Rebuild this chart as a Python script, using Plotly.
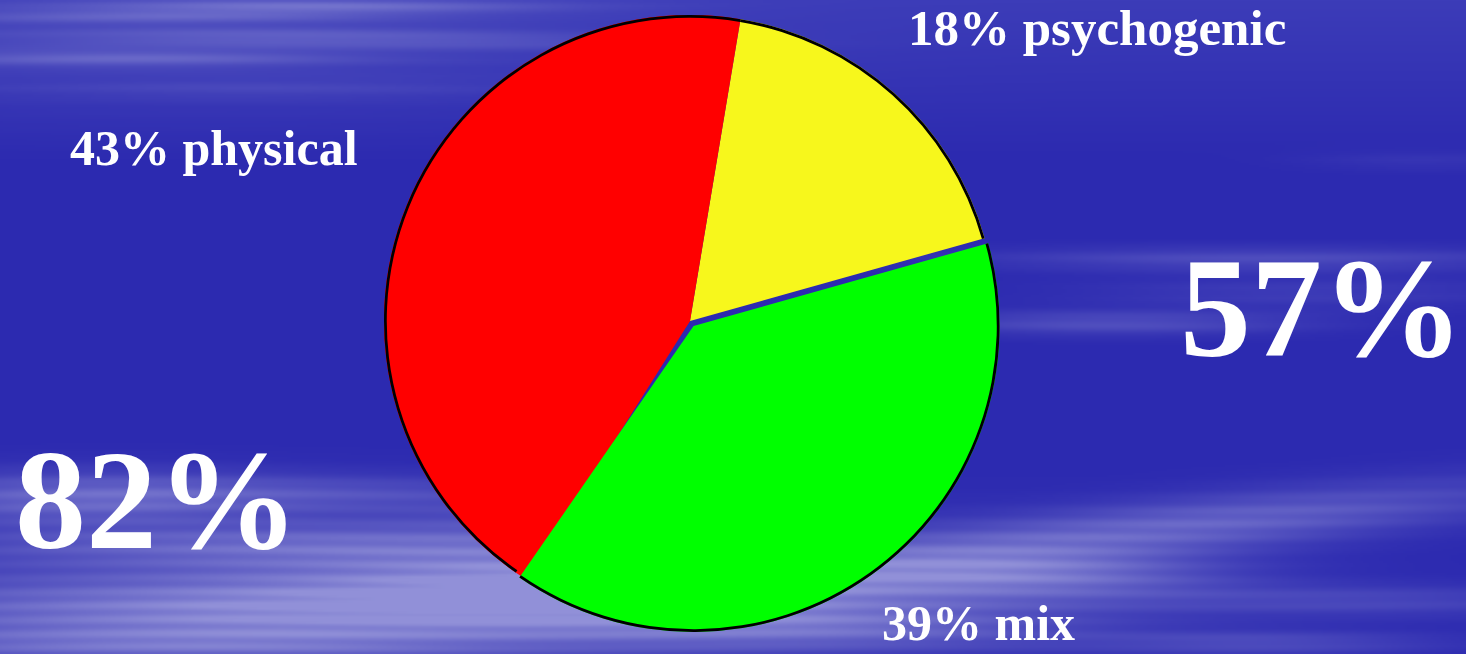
import base64, struct, zlib
import numpy as np
import plotly.graph_objects as go

# ---------------- data ----------------
categories = ["psychogenic", "mix", "physical"]
values = [18, 39, 43]
colors = ["#f7f71c", "#00ff00", "#ff0000"]
pulls = [0, 0.02, 0]
label_texts = ["43% physical", "18% psychogenic", "39% mix"]
big_texts = ["57%", "82%"]

W, H = 1466, 654

# ---------------- background texture (decorative) ----------------
def png_data_uri(arr):
    h, w, _ = arr.shape
    raw = b"".join(b"\x00" + arr[y].tobytes() for y in range(h))
    def chunk(t, d):
        c = struct.pack(">I", len(d)) + t + d
        return c + struct.pack(">I", zlib.crc32(t + d) & 0xffffffff)
    png = (b"\x89PNG\r\n\x1a\n"
           + chunk(b"IHDR", struct.pack(">IIBBBBB", w, h, 8, 2, 0, 0, 0))
           + chunk(b"IDAT", zlib.compress(raw, 9))
           + chunk(b"IEND", b""))
    return "data:image/png;base64," + base64.b64encode(png).decode()

sc = 2
iw, ih = W // sc, H // sc
yy, xx = np.mgrid[0:ih, 0:iw].astype(float)
xx *= sc
yy *= sc
top = np.clip(1 - yy / 160.0, 0, 1)
base = np.stack([44 + 16 * top, 42 + 18 * top, 176 + 8 * top], axis=-1)
blobs = [
    # top-left streaks
    (300, 6, 230, 7, 0.40, 0), (150, 16, 220, 7, 0.25, 0), (260, 36, 260, 9, 0.25, 0),
    (120, 57, 220, 9, 0.30, 0), (520, 42, 220, 7, 0.12, 0), (250, 88, 260, 10, 0.10, 0),
    (200, 45, 450, 70, 0.10, 0),
    # right middle
    (1260, 258, 280, 12, 0.25, 0), (1110, 322, 190, 12, 0.28, 0), (1300, 292, 220, 16, 0.14, 0),
    (1420, 160, 120, 10, 0.08, 0),
    # bottom left
    (80, 497, 190, 26, 0.42, 0), (350, 492, 240, 18, 0.22, 0), (300, 545, 360, 22, 0.35, 0),
    (330, 610, 460, 36, 0.62, 0), (150, 645, 340, 18, 0.35, 0), (640, 580, 280, 32, 0.55, 0),
    (830, 628, 250, 24, 0.35, 0), (600, 520, 220, 24, 0.15, 0), (400, 580, 520, 75, 0.18, 0),
    # bottom right
    (1160, 528, 360, 28, 0.45, -0.10), (1030, 575, 190, 26, 0.45, 0),
    (1360, 600, 230, 16, 0.22, 0), (1260, 642, 180, 12, 0.25, 0),
]
a = np.zeros_like(xx)
for cx, cy, sx, sy, amp, slope in blobs:
    yp = yy - cy - slope * (xx - cx)
    a += amp * np.exp(-((xx - cx) / sx) ** 2 - (yp / sy) ** 2)
mod = 0.9 + 0.1 * np.sin(2 * np.pi * yy / 14.0 + 0.6 * np.sin(xx / 110.0))
a = np.clip(a * mod, 0, 0.72)[..., None]
light = np.array([185, 185, 232], dtype=float)
img = (base * (1 - a) + light * a).clip(0, 255).astype(np.uint8)
bg_uri = png_data_uri(img)

# ---------------- pie geometry ----------------
cx_px, cy_px, r_px = 690, 321, 306
rot = 9.5

def domain_for(pull_list):
    half = r_px * (1 + max(pull_list))
    return dict(x=[(cx_px - half) / W, (cx_px + half) / W],
                y=[1 - (cy_px + half) / H, 1 - (cy_px - half) / H])

dom = domain_for(pulls)
dom_under = domain_for([0, 0, 0])

fig = go.Figure()
# underlay: red slice turned a little further so the mix/physical seam stays closed
fig.add_trace(go.Pie(
    labels=categories, values=values, sort=False, direction="clockwise",
    rotation=rot - 2.5, pull=[0, 0, 0], domain=dom_under,
    marker=dict(colors=["rgba(0,0,0,0)", "rgba(0,0,0,0)", colors[2]], line=dict(width=0)),
    textinfo="none", hoverinfo="skip", showlegend=False,
))
fig.add_trace(go.Pie(
    labels=categories, values=values, sort=False, direction="clockwise",
    rotation=rot, pull=pulls, domain=dom,
    marker=dict(colors=colors, line=dict(width=0)),
    textinfo="none", hoverinfo="label+percent", showlegend=False,
))
# outline ring following the slices' outer arcs
fig.add_trace(go.Pie(
    labels=categories, values=values, sort=False, direction="clockwise",
    rotation=rot, pull=pulls, domain=dom, hole=0.991,
    marker=dict(colors=["#000000"] * 3, line=dict(width=0)),
    textinfo="none", hoverinfo="skip", showlegend=False,
))

font_family = "Liberation Serif, Times New Roman, serif"
label_pos = [(68, 148), (906, 28), (880, 623)]
label_sizes = [50, 51, 50]
for t, (x, y), s in zip(label_texts, label_pos, label_sizes):
    fig.add_annotation(x=x / W, y=1 - y / H, xref="paper", yref="paper",
                       xanchor="left", yanchor="middle", showarrow=False,
                       text="<b>%s</b>" % t,
                       font=dict(family=font_family, size=s, color="white"))
big_pos = [(1178, 308), (13, 500)]
for t, (x, y) in zip(big_texts, big_pos):
    fig.add_annotation(x=x / W, y=1 - y / H, xref="paper", yref="paper",
                       xanchor="left", yanchor="middle", showarrow=False,
                       text="<b>%s</b>" % t,
                       font=dict(family=font_family, size=142, color="white"))

fig.update_layout(
    width=W, height=H, margin=dict(l=0, r=0, t=0, b=0),
    paper_bgcolor="#2e2eb2", plot_bgcolor="#2e2eb2",
    images=[dict(source=bg_uri, xref="paper", yref="paper", x=0, y=1,
                 sizex=1, sizey=1, sizing="stretch", layer="below",
                 xanchor="left", yanchor="top")],
)
fig.write_html("out.html", config={"displayModeBar": False},
               post_script="document.body.style.margin='0';document.body.style.overflow='hidden';")
